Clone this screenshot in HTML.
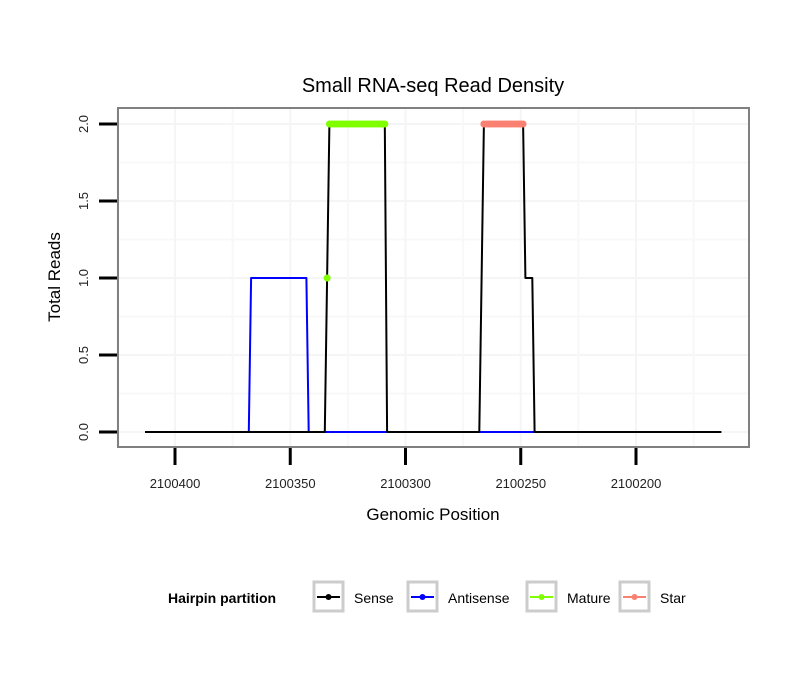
<!DOCTYPE html>
<html><head><meta charset="utf-8"><style>
body{margin:0;background:#fff;}
svg text{font-family:"Liberation Sans",sans-serif;}
</style></head><body>
<svg id="chart" width="810" height="690" xmlns="http://www.w3.org/2000/svg">
<rect width="810" height="690" fill="#fff"/>
<text x="433" y="92" font-size="20" text-anchor="middle">Small RNA-seq Read Density</text>
<g id="grid"></g>
<g id="series"></g>
<rect x="118" y="108" width="631" height="339" fill="none" stroke="#808080" stroke-width="2"/>
<g id="axes"></g>
<text x="433" y="520" font-size="17" text-anchor="middle">Genomic Position</text>
<text transform="translate(60,277) rotate(-90)" font-size="17" text-anchor="middle">Total Reads</text>
<g>
<text x="168" y="603" font-size="14" font-weight="bold">Hairpin partition</text>
<g><rect x="314" y="582" width="29" height="29" fill="#fff" stroke="#ccc" stroke-width="3"/><line x1="317" y1="597" x2="340" y2="597" stroke="#000" stroke-width="2"/><circle cx="328.5" cy="597" r="3" fill="#000"/><text x="354" y="603" font-size="14">Sense</text></g>
<g><rect x="408" y="582" width="29" height="29" fill="#fff" stroke="#ccc" stroke-width="3"/><line x1="411" y1="597" x2="434" y2="597" stroke="#0000ff" stroke-width="2"/><circle cx="422.5" cy="597" r="3" fill="#0000ff"/><text x="448" y="603" font-size="14">Antisense</text></g>
<g><rect x="527" y="582" width="29" height="29" fill="#fff" stroke="#ccc" stroke-width="3"/><line x1="530" y1="597" x2="553" y2="597" stroke="#7fff00" stroke-width="2"/><circle cx="541.5" cy="597" r="3" fill="#7fff00"/><text x="567" y="603" font-size="14">Mature</text></g>
<g><rect x="620" y="582" width="29" height="29" fill="#fff" stroke="#ccc" stroke-width="3"/><line x1="623" y1="597" x2="646" y2="597" stroke="#fa8072" stroke-width="2"/><circle cx="634.5" cy="597" r="3" fill="#fa8072"/><text x="660" y="603" font-size="14">Star</text></g>
</g>
</svg>
<script>
const xTicks=[2100400,2100350,2100300,2100250,2100200];
const yTicks=[0,0.5,1.0,1.5,2.0];
const senseX=[2100413,2100335,2100334,2100333,2100309,2100308,2100268,2100266,2100249,2100248,2100245,2100244,2100163];
const senseY=[0,0,1,2,2,0,0,2,2,1,1,0,0];
const antiX=[2100413,2100368,2100367,2100343,2100342,2100163];
const antiY=[0,0,1,1,0,0];
const matureX=[2100334,2100333,2100332,2100331,2100330,2100329,2100328,2100327,2100326,2100325,2100324,2100323,2100322,2100321,2100320,2100319,2100318,2100317,2100316,2100315,2100314,2100313,2100312,2100311,2100310,2100309];
const matureY=[1,2,2,2,2,2,2,2,2,2,2,2,2,2,2,2,2,2,2,2,2,2,2,2,2,2];
const starX=[2100266,2100265,2100264,2100263,2100262,2100261,2100260,2100259,2100258,2100257,2100256,2100255,2100254,2100253,2100252,2100251,2100250,2100249];
const starY=[2,2,2,2,2,2,2,2,2,2,2,2,2,2,2,2,2,2];
const NS='http://www.w3.org/2000/svg';
const sx=v=>175+(2100400-v)*2.305;
const sy=v=>432-v*154;
function mk(tag,attrs,parent){const e=document.createElementNS(NS,tag);for(const k in attrs)e.setAttribute(k,attrs[k]);parent.appendChild(e);return e;}
const grid=document.getElementById('grid'),axes=document.getElementById('axes'),ser=document.getElementById('series');
for(let i=0;i<yTicks.length;i++){const l=mk('line',{x1:119,x2:748,y1:sy(yTicks[i]),y2:sy(yTicks[i]),stroke:'#f5f5f5','stroke-width':2},grid);


if(i<yTicks.length-1){const m=mk('line',{x1:119,x2:748,y1:sy((yTicks[i]+yTicks[i+1])/2),y2:sy((yTicks[i]+yTicks[i+1])/2),stroke:'#f8f8f8','stroke-width':2},grid);

}}
for(let i=0;i<xTicks.length;i++){const l=mk('line',{x1:sx(xTicks[i]),x2:sx(xTicks[i]),y1:109,y2:446,stroke:'#f5f5f5','stroke-width':2},grid);


const mv=xTicks[i]+25;const m=mk('line',{x1:sx(mv),x2:sx(mv),y1:109,y2:446,stroke:'#f8f8f8','stroke-width':2},grid);

}
{const m=mk('line',{x1:sx(2100175),x2:sx(2100175),y1:109,y2:446,stroke:'#f8f8f8','stroke-width':2},grid);

}
function path(xs,ys,color,name){const d=xs.map((v,i)=>(i?'L':'M')+sx(v).toFixed(1)+','+sy(ys[i]).toFixed(1)).join('');
const p=mk('path',{d:d,fill:'none',stroke:color,'stroke-width':2,'stroke-linejoin':'round'},ser);

}
path(antiX,antiY,'#0000ff','antisense-line');
path(senseX,senseY,'#000','sense-line');
function pts(xs,ys,color,name){for(let i=0;i<xs.length;i++){const c=mk('circle',{cx:sx(xs[i]),cy:sy(ys[i]),r:3.5,fill:color},ser);

}}
pts(matureX,matureY,'#7fff00','mature-point');
pts(starX,starY,'#fa8072','star-point');
yTicks.forEach(v=>{const t=mk('line',{x1:99,x2:117,y1:sy(v),y2:sy(v),stroke:'#000','stroke-width':3},axes);


const tx=mk('text',{transform:'translate(88,'+sy(v)+') rotate(-90)','font-size':13,'text-anchor':'middle',fill:'#222'},axes);tx.textContent=v.toFixed(1);

});
xTicks.forEach(v=>{const t=mk('line',{x1:sx(v),x2:sx(v),y1:448,y2:465,stroke:'#000','stroke-width':3},axes);


const tx=mk('text',{x:sx(v),y:488,'font-size':13,'text-anchor':'middle',fill:'#222'},axes);tx.textContent=v;

});
</script>
</body></html>
